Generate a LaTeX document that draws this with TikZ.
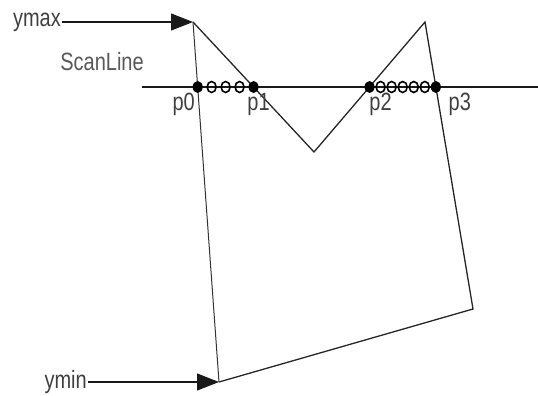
\documentclass[tikz,border=0pt]{standalone}
\usepackage{fontspec}
\newfontfamily\labelfont{Liberation Sans}[FakeStretch=0.8]
\usetikzlibrary{arrows.meta, calc}

\begin{document}
\begin{tikzpicture}[x=1pt, y=-1pt,
                edge/.style={line width=1.3pt, black!85},
                thinedge/.style={line width=1pt, black!80},
                scan/.style={line width=1.7pt, black!90},
                pointer/.style={-{Triangle[length=22pt, width=17pt]}, line width=1.1pt, black!90},
                lbl/.style={font=\labelfont\fontsize{25}{27}\selectfont, text=black!75, inner sep=1pt},
                dot/.style={fill=black},
                ring/.style={draw=black, line width=1.6pt}
            ]
                \useasboundingbox (0,0) rectangle (538,396);

                % Polygon vertices
                \coordinate (A) at (193,22);
                \coordinate (V) at (314,152);
                \coordinate (B) at (425,22);
                \coordinate (C) at (473,309);
                \coordinate (D) at (219,382);

                % Polygon edges
                \draw[edge] (A) -- (V) -- (B) -- (C) -- (D);
                \draw[thinedge] (D) -- (A);

                % Scan line
                \coordinate (s0) at (142,87);
                \coordinate (s1) at (538,87);
                \draw[scan] (s0) -- (s1);
                \node[lbl, text=black!65] (sl) at (102,62) {ScanLine};

                % Intersections
                \coordinate (p0) at (intersection of A--D and s0--s1);
                \coordinate (p1) at (intersection of A--V and s0--s1);
                \coordinate (p2) at (intersection of V--B and s0--s1);
                \coordinate (p3) at (intersection of B--C and s0--s1);

                % Filled spans
                \foreach \i in {1,2,3}
                    \draw[ring] ($(p0)!\i/4!(p1)$) ellipse [x radius=4.5pt, y radius=5.5pt];
                \foreach \i in {1,...,5}
                    \draw[ring] ($(p2)!\i/6!(p3)$) ellipse [x radius=4.5pt, y radius=5.5pt];
                \foreach \p in {p0,p1,p2,p3}
                    \fill[dot] (\p) ellipse [x radius=5pt, y radius=6pt];

                % Point labels
                \node[lbl] (l0) at ([shift={(-14,17)}]p0) {p0};
                \node[lbl] (l1) at ([shift={(5,17)}]p1) {p1};
                \node[lbl] (l2) at ([shift={(11,17)}]p2) {p2};
                \node[lbl] (l3) at ([shift={(24,17)}]p3) {p3};

                % ymax / ymin pointers
                \node[lbl, anchor=east] (ymax) at (62,22) {ymax};
                \node[lbl, anchor=east] (ymin) at (88,382) {ymin};
                \draw[pointer] (ymax.east) -- (A);
                \draw[pointer] (ymin.east) -- (D);
            \end{tikzpicture}
\end{document}
